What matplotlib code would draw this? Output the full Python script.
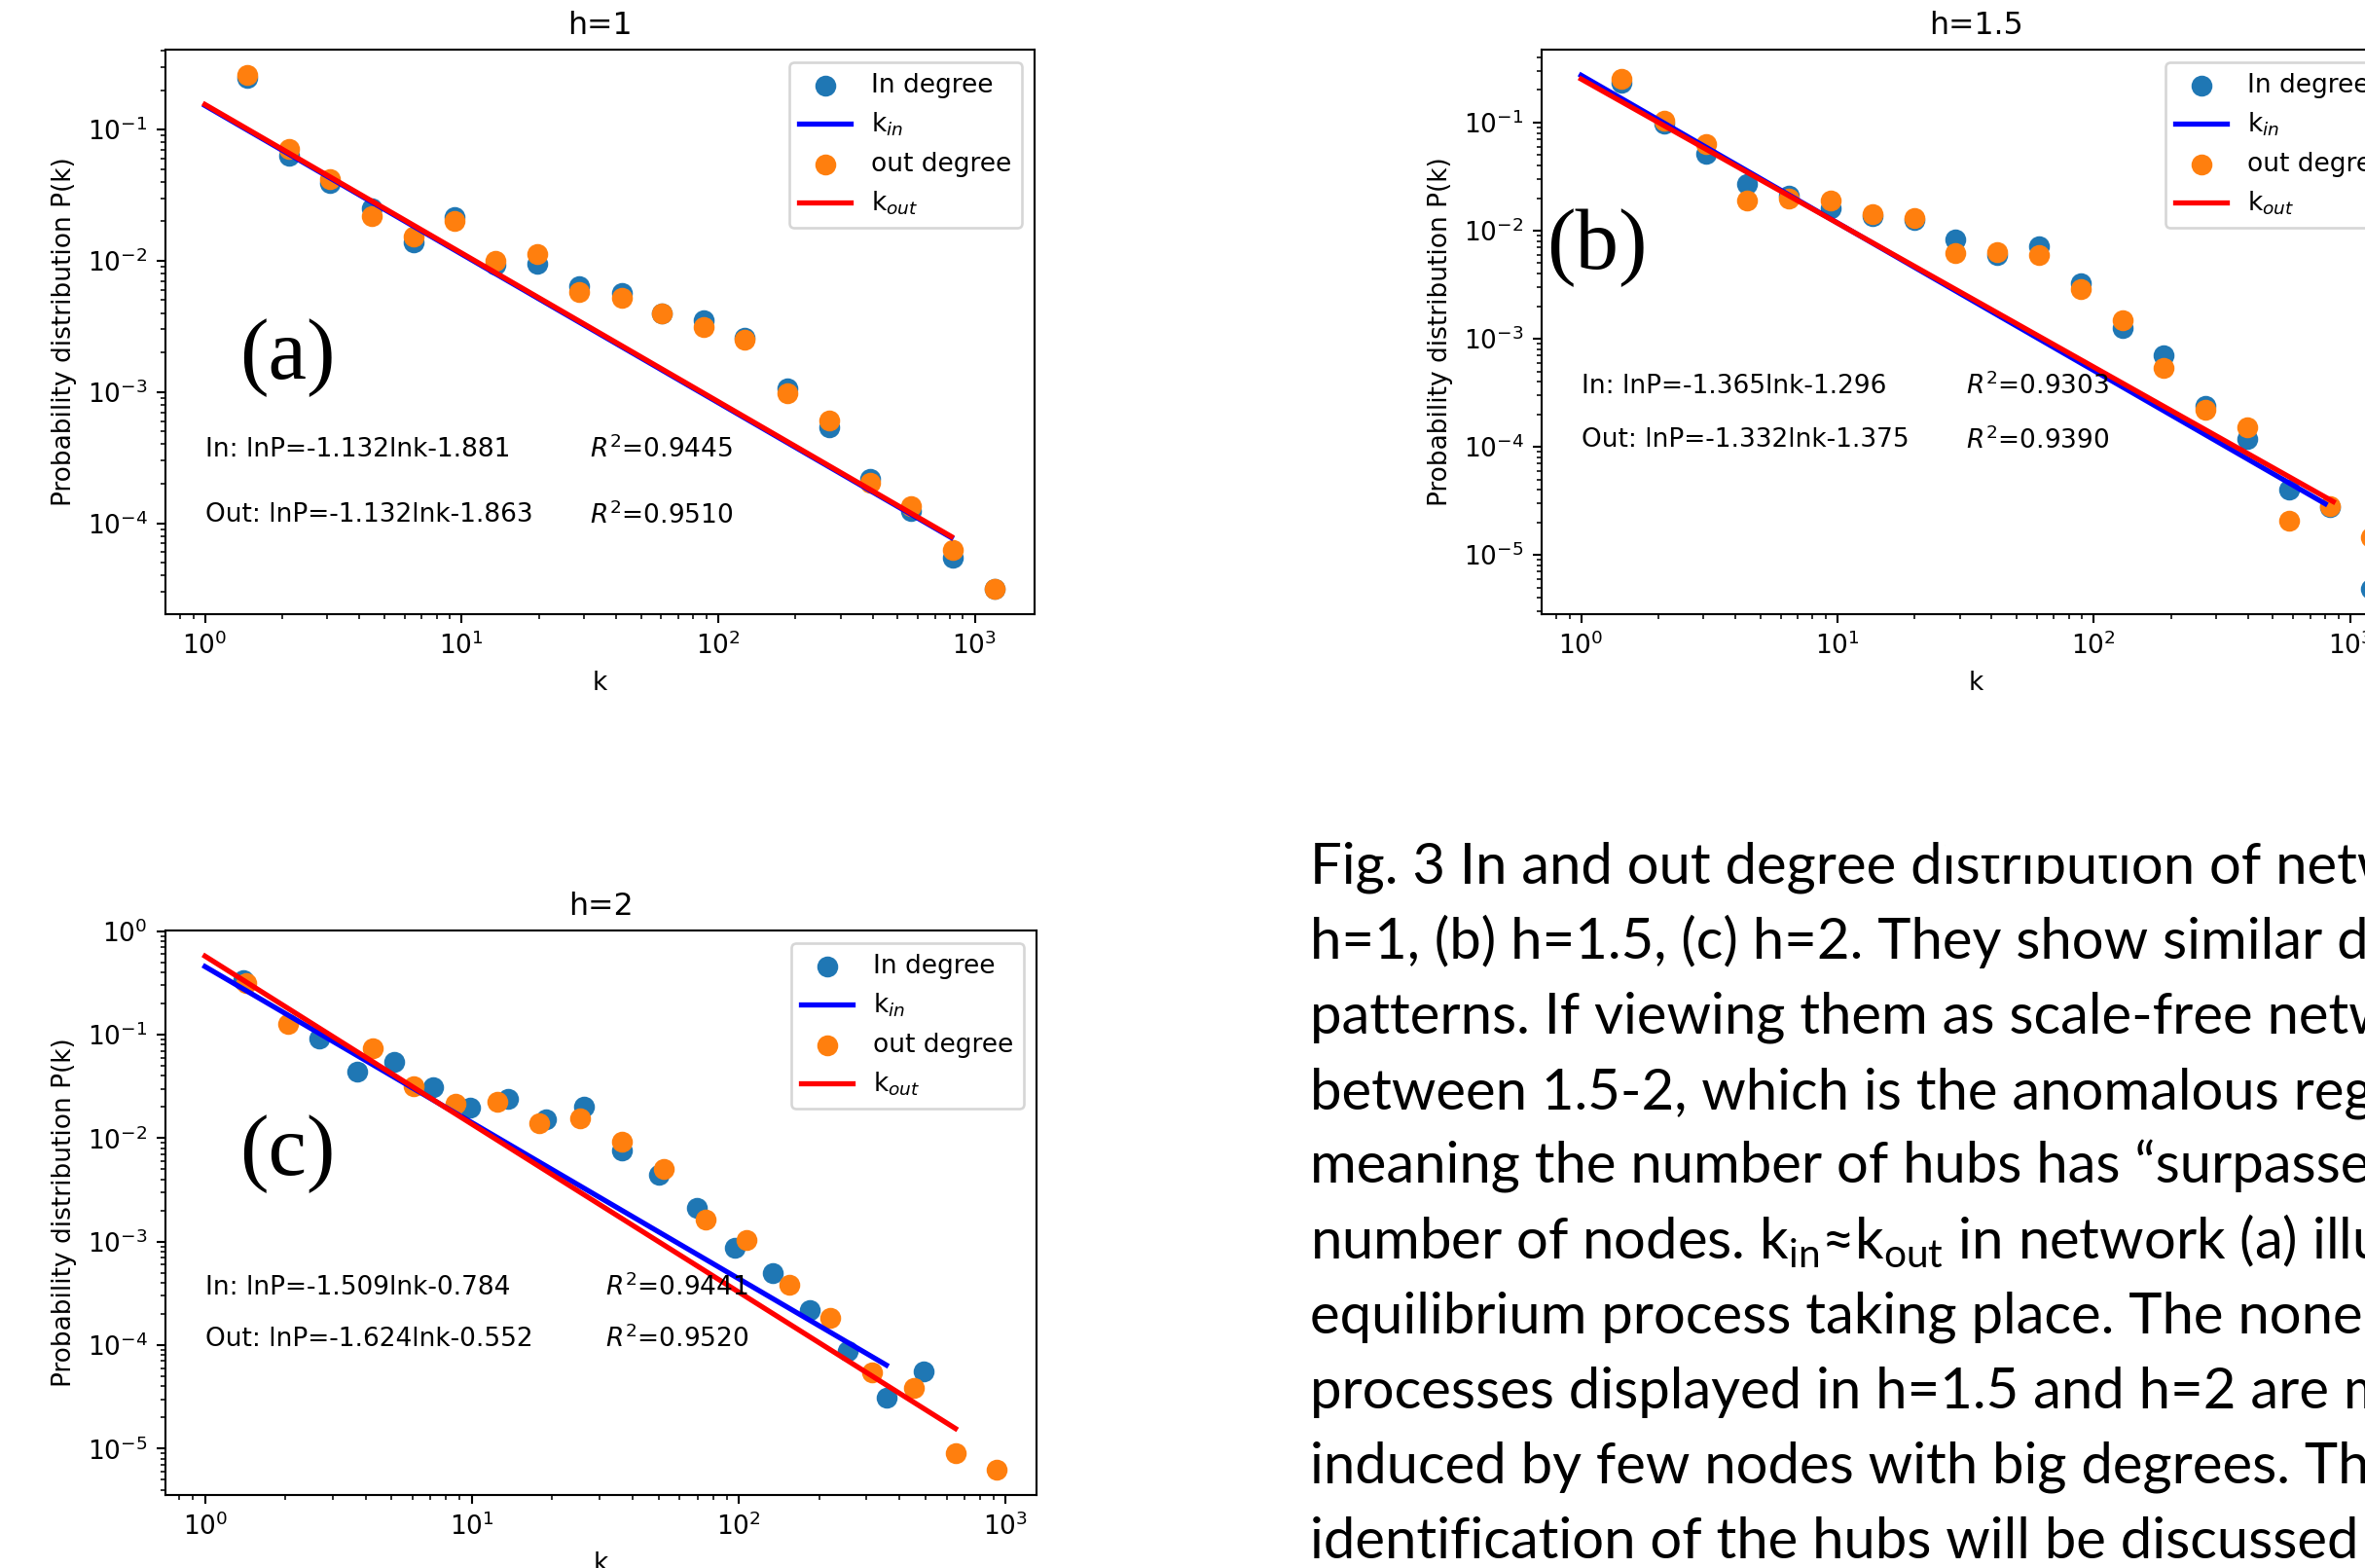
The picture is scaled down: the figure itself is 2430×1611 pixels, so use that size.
import numpy as np
import matplotlib
matplotlib.use("Agg")
import matplotlib.pyplot as plt
from matplotlib.patches import Rectangle

# scale of the pasted plots compared with matplotlib defaults
S = 1.9
plt.rcParams.update({
    'font.size': 10 * S,
    'axes.titlesize': 12 * S,
    'axes.titlepad': 6 * S,
    'axes.labelpad': 4 * S,
    'axes.linewidth': 0.8 * S,
    'xtick.major.size': 3.5 * S, 'ytick.major.size': 3.5 * S,
    'xtick.minor.size': 2 * S, 'ytick.minor.size': 2 * S,
    'xtick.major.width': 0.8 * S, 'ytick.major.width': 0.8 * S,
    'xtick.minor.width': 0.6 * S, 'ytick.minor.width': 0.6 * S,
    'xtick.major.pad': 3.5 * S, 'ytick.major.pad': 3.5 * S,
    'patch.linewidth': 1.0 * S,
    'mathtext.rm': 'Lato',
})

# ---- data ----
# (a) h=1
k_a = [1.46, 2.12, 3.07, 4.46, 6.52, 9.4, 13.6, 19.8, 28.7, 42.0, 60.5, 87.9,
       127, 186, 270, 390, 565, 820, 1200]
in_a = [0.247, 0.063, 0.0389, 0.0249, 0.0137, 0.0214, 0.0094, 0.0095, 0.00644,
        0.00573, 0.0040, 0.00355, 0.0026, 0.00107, 0.000542, 0.000218,
        0.000124, 5.42e-5, 3.18e-5]
out_a = [0.259, 0.0708, 0.0422, 0.0218, 0.0153, 0.0201, 0.0100, 0.0112, 0.0058,
         0.00525, 0.00399, 0.00315, 0.00249, 0.00098, 0.000605, 0.000203,
         0.000136, 6.24e-5, 3.18e-5]

# (b) h=1.5
k_b = [1.44, 2.11, 3.07, 4.44, 6.47, 9.4, 13.7, 20.0, 28.9, 42.0, 61.2, 89,
       130, 187, 272, 396, 576, 833, 1210]
in_b = [0.235, 0.097, 0.0519, 0.0269, 0.0210, 0.0162, 0.0136, 0.0125, 0.00827,
        0.0059, 0.00716, 0.00325, 0.00127, 0.000697, 0.00024, 0.000119,
        4.05e-5, 2.76e-5, 4.9e-6]
out_b = [0.254, 0.105, 0.0627, 0.0191, 0.0199, 0.0189, 0.0142, 0.0131, 0.0062,
         0.00633, 0.0059, 0.0029, 0.00149, 0.000538, 0.000221, 0.000151,
         2.08e-5, 2.84e-5, 1.47e-5]

# (c) h=2
kin_c = [1.39, 2.68, 3.73, 5.13, 7.13, 9.87, 13.7, 19.0, 26.3, 36.4, 50.3,
         69.6, 96.8, 134, 185, 256, 357, 493]
in_c = [0.339, 0.093, 0.044, 0.055, 0.0312, 0.0198, 0.024, 0.0152, 0.020,
        0.00758, 0.00448, 0.0021, 0.00087, 0.0005, 0.000216, 8.7e-5, 3.1e-5,
        5.6e-5]
kout_c = [1.43, 2.05, 4.24, 6.07, 8.69, 12.4, 17.8, 25.5, 36.6, 52.4, 75, 107,
          154, 220, 316, 452, 648, 927]
out_c = [0.313, 0.127, 0.0745, 0.0315, 0.0217, 0.0226, 0.0139, 0.0155, 0.00918,
         0.00506, 0.00163, 0.00103, 0.00038, 0.000184, 5.5e-5, 3.87e-5, 9.0e-6,
         6.3e-6]

# fitted lines: lnP = slope*lnk + intercept, drawn from k=1 to kmax
slopes = {'a': (-1.132, -1.132), 'b': (-1.365, -1.332), 'c': (-1.509, -1.624)}
intercepts = {'a': (-1.881, -1.863), 'b': (-1.296, -1.375), 'c': (-0.784, -0.552)}
kmax = {'a': (810, 810), 'b': (800, 860), 'c': (357, 648)}
r2 = {'a': ('0.9445', '0.9510'), 'b': ('0.9303', '0.9390'), 'c': ('0.9441', '0.9520')}
titles = {'a': 'h=1', 'b': 'h=1.5', 'c': 'h=2'}

caption = [
    "Fig. 3 In and out degree distribution of networks (a)",
    "h=1, (b) h=1.5, (c) h=2. They show similar distribution",
    "patterns. If viewing them as scale-free networks, \u03b3 is",
    "between 1.5-2, which is the anomalous regime,",
    "meaning the number of hubs has \u201csurpassed\u201d the",
    "number of nodes. k$_{\\mathrm{in}}$\u2248k$_{\\mathrm{out}}$ in network (a) illustrates an",
    "equilibrium process taking place. The nonequilibrium",
    "processes displayed in h=1.5 and h=2 are mainly",
    "induced by few nodes with big degrees. The",
    "identification of the hubs will be discussed later.",
]

W, H = 2430, 1611
fig = plt.figure(figsize=(W / 100, H / 100), dpi=100)


def px_axes(x0, y0, x1, y1):
    return fig.add_axes([x0 / W, 1 - y1 / H, (x1 - x0) / W, (y1 - y0) / H])


def panel(ax, key, kin, pin, kout, pout):
    s_in, s_out = slopes[key]
    b_in, b_out = intercepts[key]
    m_in, m_out = kmax[key]
    ax.scatter(kin, pin, s=185, color='#1f77b4', label='In degree')
    kk = np.array([1, m_in])
    ax.plot(kk, np.exp(b_in) * kk ** s_in, color='b', lw=2 * S, label='k$_{in}$')
    ax.scatter(kout, pout, s=185, color='#ff7f0e', label='out degree')
    kk = np.array([1, m_out])
    ax.plot(kk, np.exp(b_out) * kk ** s_out, color='r', lw=2 * S, label='k$_{out}$')
    ax.set_xscale('log')
    ax.set_yscale('log')
    ax.set_xlabel('k')
    ax.set_ylabel('Probability distribution P(k)')
    ax.set_title(titles[key])
    ax.legend(loc='upper right')
    ax.text(1, 10 ** -3.44, 'In: lnP=%.3flnk%.3f' % (s_in, b_in), va='center')
    ax.text(1, 10 ** -3.94, 'Out: lnP=%.3flnk%.3f' % (s_out, b_out), va='center')
    ax.text(10 ** 1.5, 10 ** -3.44, '$R^2$=' + r2[key][0], va='center')
    ax.text(10 ** 1.5, 10 ** -3.94, '$R^2$=' + r2[key][1], va='center')


ax_a = px_axes(170, 51, 1063, 631)
panel(ax_a, 'a', k_a, in_a, k_a, out_a)
ax_b = px_axes(1584, 51, 2477, 631)
panel(ax_b, 'b', k_b, in_b, k_b, out_b)
ax_c = px_axes(170, 956, 1065, 1536)
panel(ax_c, 'c', kin_c, in_c, kout_c, out_c)

# panel letters pasted on in Times
for lab, (cx, cy) in zip(['(a)', '(b)', '(c)'], [(295, 368), (1641, 255), (295, 1186)]):
    fig.text(cx / W, 1 - cy / H, lab, family='Liberation Serif', fontsize=64,
             ha='center', va='center')

# caption: pick the size so that "... distribution of" ends where it does in the slide
cap_font = ['Lato', 'DejaVu Sans']
x0_cap, base0, step = 1346, 908, 77
renderer = fig.canvas.get_renderer()


def text_width(s, fs):
    t = fig.text(0, 0, s, family=cap_font, fontsize=fs)
    w = t.get_window_extent(renderer).width
    t.remove()
    return w


fs_cap = 40 * (2323 - x0_cap) / text_width("Fig. 3 In and out degree distribution of", 40)
for i, line in enumerate(caption):
    fig.text(x0_cap / W, 1 - (base0 + i * step) / H, line, family=cap_font,
             fontsize=fs_cap, va='baseline', math_fontfamily='custom')

# white strip that hides the top of "distribution" in the original
em = fs_cap * 100 / 72
bx0 = x0_cap + text_width("Fig. 3 In and out degree d", fs_cap) + 3
bx1 = x0_cap + text_width("Fig. 3 In and out degree distribution", fs_cap) + 3
by1 = base0 - 0.53 * em
fig.patches.append(Rectangle((bx0 / W, 1 - by1 / H), (bx1 - bx0) / W, 1.2 * em / H,
                             transform=fig.transFigure, color='white', zorder=5))

fig.savefig('out.png', dpi=100)
